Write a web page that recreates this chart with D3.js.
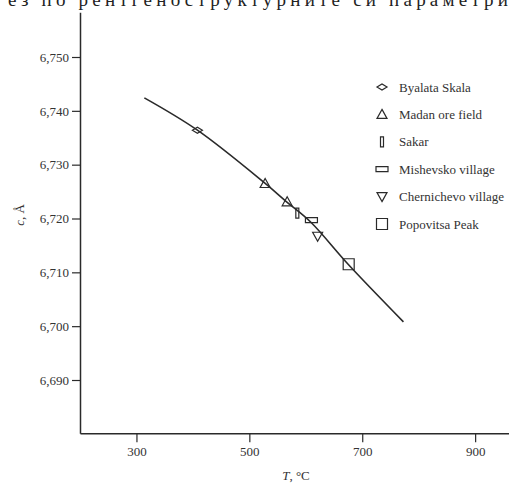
<!DOCTYPE html>
<html>
<head>
<meta charset="utf-8">
<script src="https://cdn.jsdelivr.net/npm/d3@7"></script>
<style>
  body { margin: 0; background: #fff; }
  svg { display: block; font-family: "Liberation Serif", "DejaVu Serif", serif; }
</style>
</head>
<body>
<div id="chart"></div>
<script>
// curve c(T)
const curveT = [314, 408, 527, 566, 609, 675, 773];
const curveC = [6.7424, 6.7364, 6.7266, 6.7231, 6.7193, 6.7115, 6.7008];

// samples
const sites = ["Byalata Skala", "Madan ore field", "Sakar", "Mishevsko village", "Chernichevo village", "Popovitsa Peak"];
const siteSymbols = ["diamond", "triangle", "bar", "rect", "triangleDown", "square"];
const pointSite = [0, 1, 1, 2, 3, 4, 5];
const pointT = [408, 528, 567, 585, 610, 621, 676];
const pointC = [6.7364, 6.7265, 6.7231, 6.7210, 6.7197, 6.7167, 6.7115];

const xTicks = [300, 500, 700, 900];
const yTicks = [6.690, 6.700, 6.710, 6.720, 6.730, 6.740, 6.750];

const width = 509, height = 484;
const ink = "#2a2a2a";

const svg = d3.select("#chart").append("svg")
    .attr("width", width)
    .attr("height", height);

// cut-off line of text from the page above
svg.append("text")
    .attr("x", 8).attr("y", 6)
    .attr("textLength", 500)
    .attr("lengthAdjust", "spacing")
    .style("font-size", "19px")
    .attr("fill", "#222")
    .text("ез по рентгеноструктурните си параметри");

const x = d3.scaleLinear().domain([200, 960]).range([80, 509]);
const y = d3.scaleLinear().domain([6.690, 6.750]).range([380, 57]);
const yBottom = 6.6801, yTop = 6.7583;

// axes
const xAxis = svg.append("g")
    .attr("transform", `translate(0,${y(yBottom)})`)
    .call(d3.axisBottom(x).tickValues(xTicks).tickSize(9).tickSizeOuter(0).tickPadding(4));
xAxis.select(".domain").attr("stroke", ink).attr("stroke-width", 1.5);

const yAxis = svg.append("g")
    .attr("transform", "translate(80,0)")
    .call(d3.axisLeft(y.copy().domain([yBottom, yTop]).range([y(yBottom), y(yTop)]))
        .tickValues(yTicks)
        .tickSize(8).tickSizeOuter(0).tickPadding(3)
        .tickFormat(d => d3.format(".3f")(d).replace(".", ",")));
yAxis.select(".domain").attr("stroke", ink).attr("stroke-width", 1.5);

svg.selectAll(".tick line").attr("stroke", ink).attr("stroke-width", 1.2);
svg.selectAll(".tick text")
    .attr("fill", "#333")
    .style("font-family", "'Liberation Serif', serif")
    .style("font-size", "13px");

// axis titles
svg.append("text")
    .attr("x", 296).attr("y", 480)
    .attr("text-anchor", "middle")
    .style("font-size", "13px")
    .attr("fill", "#333")
    .html('<tspan font-style="italic">T</tspan>, °C');

svg.append("text")
    .attr("transform", "translate(24,215) rotate(-90)")
    .attr("text-anchor", "middle")
    .style("font-size", "13px")
    .attr("fill", "#333")
    .html('<tspan font-style="italic">c</tspan>, Å');

// curve
const line = d3.line()
    .x((d, i) => x(curveT[i]))
    .y((d, i) => y(curveC[i]))
    .curve(d3.curveCatmullRom);
svg.append("path")
    .attr("d", line(curveT))
    .attr("fill", "none")
    .attr("stroke", ink)
    .attr("stroke-width", 1.6);

// symbol shapes
function symbolPath(kind) {
  switch (kind) {
    case "diamond": return "M-5,0L0,-3L5,0L0,3Z";
    case "triangle": return "M0,-5L5,4L-5,4Z";
    case "triangleDown": return "M0,5L5,-4L-5,-4Z";
    case "bar": return "M-1.5,-5H1.5V5H-1.5Z";
    case "rect": return "M-6,-2.5H6V2.5H-6Z";
    case "square": return "M-5.5,-5.5H5.5V5.5H-5.5Z";
  }
}

svg.append("g").selectAll("path")
    .data(pointT)
    .join("path")
    .attr("transform", (d, i) => `translate(${x(d)},${y(pointC[i])})`)
    .attr("d", (d, i) => symbolPath(siteSymbols[pointSite[i]]))
    .attr("fill", "none")
    .attr("stroke", ink)
    .attr("stroke-width", 1.2);

// legend
const legend = svg.append("g").attr("transform", "translate(382,87)");
const item = legend.selectAll("g")
    .data(sites)
    .join("g")
    .attr("transform", (d, i) => `translate(0,${i * 27.4})`);
item.append("path")
    .attr("d", (d, i) => symbolPath(siteSymbols[i]))
    .attr("fill", "none")
    .attr("stroke", ink)
    .attr("stroke-width", 1.2);
item.append("text")
    .attr("x", 17).attr("dy", "0.35em")
    .style("font-size", "13px")
    .attr("fill", "#333")
    .text(d => d);
</script>
</body>
</html>
